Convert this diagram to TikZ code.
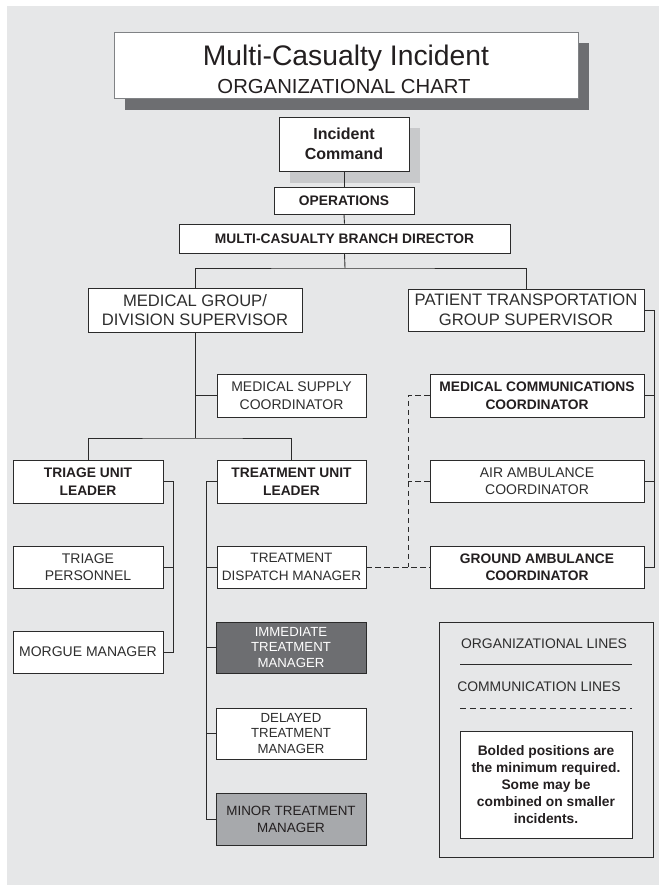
\documentclass[tikz,border=0pt]{standalone}
\usepackage{fontspec}
\setmainfont{Liberation Sans}
\definecolor{bgc}{HTML}{E6E7E8}
\definecolor{darkg}{HTML}{6D6E71}
\definecolor{midg}{HTML}{A7A9AC}
\definecolor{lightsh}{HTML}{C8C9CB}
\definecolor{linec}{HTML}{2B2B2B}
\definecolor{txt}{HTML}{2E2E2E}
\definecolor{txtb}{HTML}{231F20}
\definecolor{titleb}{HTML}{808285}
\newcommand\mybox[7]{\node[#1, minimum width={(#5-#3)*1pt}, minimum height={(#6-#4)*1pt}] (#2) at ({(#3+#5)/2},{-(#4+#6)/2}) {#7};}
\tikzset{
  box/.style={draw=linec, line width=0.9pt, fill=white, inner sep=0pt, align=center, text=txt, font=\fontsize{14}{17.5}\selectfont},
  bbox/.style={box, text=txtb, font=\fontsize{13.8}{17.5}\selectfont\bfseries},
  bigbox/.style={box, font=\fontsize{16.6}{19.5}\selectfont},
  tribox/.style={box, font=\fontsize{13.2}{15.5}\selectfont},
  conn/.style={draw=linec, line width=0.9pt},
  comm/.style={draw=linec, line width=0.9pt, dash pattern=on 5.5pt off 3.5pt},
}
\begin{document}
\begin{tikzpicture}[x=1pt,y=1pt]
\useasboundingbox (0,0) rectangle (659,-886);
\fill[bgc] (7,-6) rectangle (659,-885);
% shadows
\fill[darkg] (125,-43) rectangle (589,-110);
\fill[lightsh] (290,-128) rectangle (420,-183);
% title
\mybox{box, draw=titleb, line width=0.8pt}{title}{114}{32}{578}{98}{}
\node[anchor=base, text=txtb, font=\fontsize{28.3}{30}\selectfont] (t1) at (346,-65) {Multi-Casualty Incident};
\node[anchor=base, text=txtb, font=\fontsize{20.3}{22}\selectfont] (t2) at (344,-93) {ORGANIZATIONAL CHART};
% command chain
\mybox{bbox, font=\fontsize{16}{20}\selectfont\bfseries}{ic}{279}{117}{409}{171}{Incident\\Command}
\mybox{bbox}{ops}{274}{187}{414}{214}{OPERATIONS}
\mybox{bbox}{mcbd}{179}{224}{510}{253}{MULTI-CASUALTY BRANCH DIRECTOR}
\mybox{bigbox}{mg}{88}{288}{302}{332}{MEDICAL GROUP/\\DIVISION SUPERVISOR}
\mybox{bigbox}{pt}{408}{289}{644}{331}{PATIENT TRANSPORTATION\\GROUP SUPERVISOR}
\mybox{box}{msc}{217}{374}{366}{417}{MEDICAL SUPPLY\\COORDINATOR}
\mybox{bbox}{tul}{13}{460}{163}{503}{TRIAGE UNIT\\LEADER}
\mybox{bbox}{trul}{217}{460}{366}{503}{TREATMENT UNIT\\LEADER}
\mybox{bbox}{mcc}{430}{374}{644}{417}{MEDICAL COMMUNICATIONS\\COORDINATOR}
\mybox{box}{aac}{430}{460}{644}{502}{AIR AMBULANCE\\COORDINATOR}
\mybox{bbox}{gac}{430}{546}{644}{588}{GROUND AMBULANCE\\COORDINATOR}
\mybox{box}{tp}{13}{546}{163}{588}{TRIAGE\\PERSONNEL}
\mybox{box}{mm}{13}{631}{163}{673}{MORGUE MANAGER}
\mybox{box, font=\fontsize{13.6}{17.5}\selectfont}{tdm}{217}{546}{366}{588}{TREATMENT\\DISPATCH MANAGER}
\mybox{tribox, fill=darkg, text=white}{itm}{216}{622}{366}{673}{IMMEDIATE\\TREATMENT\\MANAGER}
\mybox{tribox}{dtm}{216}{708}{366}{759}{DELAYED\\TREATMENT\\MANAGER}
\mybox{tribox, fill=midg, text=txtb, font=\fontsize{13.4}{17}\selectfont}{mtm}{216}{793}{366}{845}{MINOR TREATMENT\\MANAGER}
% connectors
\coordinate (b1) at (345,-268);
\coordinate (b2) at (195,-438);
\coordinate (tb) at (173,0);
\coordinate (trb) at (206,0);
\coordinate (pb) at (654,0);
\coordinate (db) at (408,0);
\draw[conn] (ic.south) -- (ops.north);
\draw[conn] (ops.south) -- (mcbd.north);
\draw[conn] (mcbd.south) -- (b1);
\draw[conn] (mg.north) |- (b1) -| (pt.north);
\draw[conn] (mg.south) -- (b2);
\draw[conn] (tul.north) |- (b2) -| (trul.north);
\draw[conn] (msc.west) -- (msc.west -| mg.south);
\draw[conn] (tul.east) -- (tul.east -| tb) -- (mm.east -| tb) -- (mm.east);
\draw[conn] (tp.east) -- (tp.east -| tb);
\draw[conn] (trul.west) -- (trul.west -| trb) -- (mtm.west -| trb) -- (mtm.west);
\draw[conn] (tdm.west) -- (tdm.west -| trb);
\draw[conn] (itm.west) -- (itm.west -| trb);
\draw[conn] (dtm.west) -- (dtm.west -| trb);
\draw[conn] (pt.east) -- (pt.east -| pb) -- (gac.east -| pb) -- (gac.east);
\draw[conn] (mcc.east) -- (mcc.east -| pb);
\draw[conn] (aac.east) -- (aac.east -| pb);
\draw[comm] (mcc.west) -- (mcc.west -| db) -- (gac.west -| db);
\draw[comm] (aac.west) -- (aac.west -| db);
\draw[comm] (tdm.east) -- (gac.west);
% legend
\mybox{box, fill=none}{legend}{439}{622}{653}{857}{}
\node[text=txt, font=\fontsize{13.9}{16}\selectfont] (lg1) at (544,-644) {ORGANIZATIONAL LINES};
\node[text=txt, font=\fontsize{13.9}{16}\selectfont] (lg2) at (539,-687) {COMMUNICATION LINES};
\coordinate (ls1) at (460,-664);
\coordinate (ls2) at (632,-664);
\coordinate (ld1) at (460,-708);
\coordinate (ld2) at (632,-708);
\draw[conn] (ls1) -- (ls2);
\draw[comm, dash pattern=on 6pt off 4pt] (ld1) -- (ld2);
\mybox{bbox, font=\fontsize{13.8}{17}\selectfont\bfseries}{note}{460}{731}{632}{838}{Bolded positions are\\the minimum required.\\Some may be\\combined on smaller\\incidents.}
\end{tikzpicture}
\end{document}
